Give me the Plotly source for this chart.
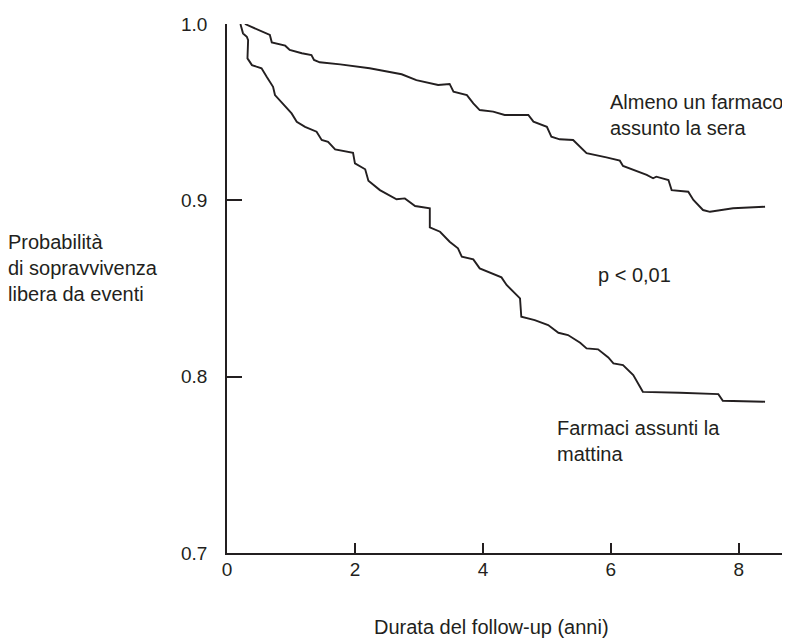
import plotly.graph_objects as go

# Data (Kaplan-Meier style curves)
sera_x = [0.28, 0.67, 0.70, 0.91, 0.98, 1.17, 1.32, 1.36, 1.45, 1.77, 2.23, 2.55, 2.73, 2.96,
          3.30, 3.48, 3.54, 3.75, 3.85, 3.95, 4.16, 4.34, 4.71, 4.79, 5.00, 5.07, 5.20, 5.41,
          5.52, 5.62, 5.93, 6.14, 6.19, 6.56, 6.66, 6.71, 6.90, 6.95, 7.21, 7.29, 7.44, 7.55,
          7.91, 8.41]
sera_y = [1.000, 0.9938, 0.9896, 0.9877, 0.9853, 0.9834, 0.9824, 0.9796, 0.9783, 0.9771,
          0.9749, 0.9726, 0.9715, 0.9682, 0.9654, 0.9660, 0.9616, 0.9597, 0.9550, 0.9512,
          0.9503, 0.9484, 0.9484, 0.9446, 0.9417, 0.9361, 0.9346, 0.9342, 0.9304, 0.9267,
          0.9244, 0.9225, 0.9195, 0.9144, 0.9125, 0.9134, 0.9115, 0.9058, 0.9049, 0.9002,
          0.8945, 0.8935, 0.8955, 0.8964]

mattina_x = [0.21, 0.25, 0.31, 0.33, 0.32, 0.39, 0.46, 0.54, 0.62, 0.72, 0.75, 0.85, 1.01,
             1.09, 1.22, 1.40, 1.48, 1.58, 1.69, 1.97, 2.00, 2.16, 2.21, 2.39, 2.65, 2.78,
             2.94, 3.17, 3.17, 3.33, 3.48, 3.61, 3.67, 3.85, 3.95, 4.29, 4.37, 4.58, 4.60,
             4.81, 5.02, 5.18, 5.33, 5.52, 5.62, 5.80, 5.96, 6.04, 6.19, 6.35, 6.50, 7.08,
             7.68, 7.75, 8.41]
mattina_y = [1.000, 0.9947, 0.9928, 0.9909, 0.9805, 0.9767, 0.9758, 0.9749, 0.9701, 0.9644,
             0.9597, 0.9559, 0.9493, 0.9446, 0.9417, 0.9389, 0.9342, 0.9332, 0.9289, 0.9270,
             0.9210, 0.9176, 0.9111, 0.9058, 0.9006, 0.9011, 0.8968, 0.8955, 0.8847, 0.8822,
             0.8765, 0.8728, 0.8680, 0.8665, 0.8614, 0.8563, 0.8520, 0.8444, 0.8340, 0.8321,
             0.8293, 0.8249, 0.8236, 0.8192, 0.8160, 0.8155, 0.8109, 0.8075, 0.8066, 0.8009,
             0.7914, 0.7909, 0.7901, 0.7863, 0.7858]

x_ticks = [0, 2, 4, 6, 8]
x_ticklabels = ["0", "2", "4", "6", "8"]
y_ticks = [0.7, 0.8, 0.9, 1.0]
y_ticklabels = ["0.7", "0.8", "0.9", "1.0"]

INK = "#231f20"
FONT = "Liberation Sans, Arial, sans-serif"

fig = go.Figure()
fig.add_trace(go.Scatter(x=sera_x, y=sera_y, mode="lines",
                         line=dict(color=INK, width=1.9), cliponaxis=False,
                         name="Almeno un farmaco assunto la sera"))
fig.add_trace(go.Scatter(x=mattina_x, y=mattina_y, mode="lines",
                         line=dict(color=INK, width=1.9), cliponaxis=False,
                         name="Farmaci assunti la mattina"))

anns = [
    dict(x=5.97, y=0.9485, xref="x", yref="y", text="Almeno un farmaco<br>assunto la sera",
         xanchor="left", yanchor="middle", align="left"),
    dict(x=5.79, y=0.8576, xref="x", yref="y", text="p &lt; 0,01",
         xanchor="left", yanchor="middle", align="left"),
    dict(x=5.15, y=0.7638, xref="x", yref="y", text="Farmaci assunti la<br>mattina",
         xanchor="left", yanchor="middle", align="left"),
    dict(x=-0.391, y=0.5388, xref="paper", yref="paper",
         text="Probabilità<br>di sopravvivenza<br>libera da eventi",
         xanchor="left", yanchor="middle", align="left"),
    dict(x=0.469, y=-0.14, xref="paper", yref="paper", text="Durata del follow-up (anni)",
         xanchor="center", yanchor="middle", align="center"),
]
for a in anns:
    a.update(showarrow=False, borderpad=0, font=dict(family=FONT, size=20, color=INK))
fig.update_layout(annotations=anns)

# page body has an 8px margin, so the figure is shrunk by 8px and margins shifted
fig.update_layout(
    width=782, height=632,
    margin=dict(l=219, r=0, t=16, b=87, pad=0),
    paper_bgcolor="white", plot_bgcolor="white",
    showlegend=False,
    font=dict(family=FONT, size=19, color=INK),
)
fig.update_xaxes(range=[0, 8.8], showgrid=False, zeroline=False,
                 showline=True, linecolor=INK, linewidth=1.8,
                 ticks="inside", ticklen=10, tickwidth=1.8, tickcolor=INK,
                 tickvals=x_ticks, ticktext=x_ticklabels, ticklabelstandoff=-2)
fig.update_yaxes(range=[0.7, 1.0], showgrid=False, zeroline=False,
                 showline=True, linecolor=INK, linewidth=1.8,
                 ticks="inside", ticklen=15, tickwidth=1.8, tickcolor=INK,
                 tickvals=y_ticks, ticktext=y_ticklabels, ticklabelstandoff=14)

fig.write_html("out.html")
